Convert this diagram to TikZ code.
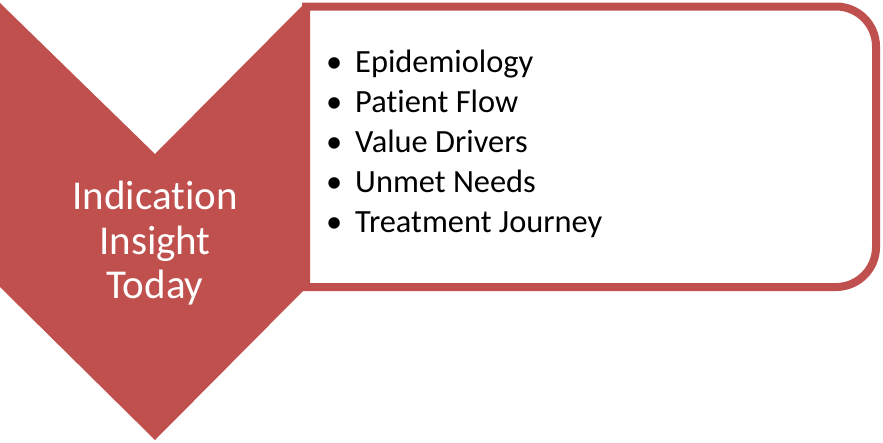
\documentclass[tikz,border=0pt]{standalone}
\usepackage{fontspec}
\setmainfont{Carlito}[Ligatures=NoCommon]
\usetikzlibrary{positioning}
\definecolor{chevred}{HTML}{C0504D}

\begin{document}
\begin{tikzpicture}[x=1pt,y=-1pt,
 chev/.style={fill=chevred,draw=none},
 box/.style={draw=chevred,fill=white,line width=8pt},
 head/.style={text=white,align=center,inner sep=0pt,anchor=base,font=\fontsize{41}{44.5}\selectfont},
 item/.style={anchor=base west,inner sep=0pt,font=\fontsize{32.4}{40}\selectfont}]
\useasboundingbox (0,0) rectangle (883,442);
% list box, square on the left, rounded on the right
\draw[box] (306,150) -- (306,6.5) -- (600,6.5) [rounded corners=40pt] -- (876,6.5) -- (876,287) -- (600,287) [sharp corners] -- (306,287) -- cycle;
% chevron
\fill[chev] (0,3) -- (155,154) -- (305,3) -- (305,289) -- (155,440) -- (0,287) -- cycle;
\node[head] (title) at (155,298.5) {Indication\\Insight\\Today};
\foreach \txt [count=\i] in {Epidemiology,Patient Flow,Value Drivers,Unmet Needs,Treatment Journey}
  \node[item] (item\i) at (326,32+40*\i) {\makebox[29pt][l]{\textbullet}\txt};
\end{tikzpicture}
\end{document}
